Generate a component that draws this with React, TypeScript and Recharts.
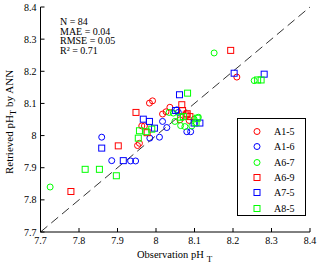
import { ScatterChart, Scatter, XAxis, YAxis, ReferenceLine, Legend } from "recharts"

const ticks = [7.7, 7.8, 7.9, 8, 8.1, 8.2, 8.3, 8.4]
const stats = ["N = 84", "MAE = 0.04", "RMSE = 0.05", "R\u00b2 = 0.71"]

// observation pH_T vs ANN-retrieved pH_T, one pair of arrays per station
const a15Obs = [7.983, 7.991, 8.036, 8.017, 7.963, 7.970, 7.952, 7.957, 8.086, 8.062, 8.210, 8.026]
const a15Ann = [8.101, 8.108, 8.088, 8.067, 8.030, 8.030, 7.969, 7.976, 8.047, 8.049, 8.182, 8.074]

const a16Obs = [7.859, 7.885, 7.934, 7.947, 7.984, 8.009, 8.017, 8.028, 8.054, 8.058, 8.080, 8.090]
const a16Ann = [7.995, 7.922, 7.921, 7.921, 7.992, 7.995, 8.044, 8.025, 8.080, 8.072, 8.012, 8.012]

const a67Obs = [7.725, 8.034, 8.045, 8.049, 8.064, 8.075, 8.093, 8.099, 8.110, 8.151, 8.255]
const a67Ann = [7.840, 8.072, 8.070, 8.044, 8.031, 8.028, 8.030, 8.051, 8.057, 8.257, 8.171]

const a69Obs = [7.779, 7.902, 7.948, 7.977, 8.067, 8.069, 8.078, 8.081, 8.088, 8.194]
const a69Ann = [7.826, 7.968, 8.072, 8.009, 8.096, 8.078, 8.064, 8.068, 8.059, 8.265]

const a75Obs = [7.859, 7.915, 7.967, 7.983, 7.996, 8.061, 8.051, 8.099, 8.114, 8.203, 8.281]
const a75Ann = [7.961, 7.922, 8.051, 8.044, 8.023, 8.127, 8.078, 8.039, 8.039, 8.194, 8.191]

const a85Obs = [7.816, 7.853, 7.897, 7.957, 7.974, 7.989, 7.954, 8.082, 8.064, 8.071, 8.107, 8.104, 8.264, 8.273]
const a85Ann = [7.895, 7.895, 7.875, 8.015, 8.012, 8.020, 7.992, 8.132, 8.057, 8.059, 8.054, 8.040, 8.173, 8.173]

const series = [
  { name: "A1-5", color: "#ff0000", kind: "circle", obs: a15Obs, ann: a15Ann },
  { name: "A1-6", color: "#0000ff", kind: "circle", obs: a16Obs, ann: a16Ann },
  { name: "A6-7", color: "#00ff00", kind: "circle", obs: a67Obs, ann: a67Ann },
  { name: "A6-9", color: "#ff0000", kind: "square", obs: a69Obs, ann: a69Ann },
  { name: "A7-5", color: "#0000ff", kind: "square", obs: a75Obs, ann: a75Ann },
  { name: "A8-5", color: "#00ff00", kind: "square", obs: a85Obs, ann: a85Ann },
]

const FONT = "'Liberation Serif', 'Times New Roman', serif"

function Marker({ cx, cy, kind, color }: { cx: number; cy: number; kind: string; color: string }) {
  if (kind === "circle") return <circle cx={cx} cy={cy} r={3} fill="none" stroke={color} strokeWidth={1} />
  return <rect x={cx - 3} y={cy - 3} width={6} height={6} fill="none" stroke={color} strokeWidth={1} />
}

const fmt = (v: number) => String(Number(v.toFixed(1)))

function LegendBox() {
  return (
    <div
      style={{
        width: 69,
        height: 98,
        boxSizing: "border-box",
        border: "1px solid #000",
        background: "#fff",
        paddingTop: 5,
        fontFamily: FONT,
        fontSize: 10,
        color: "#000",
      }}
    >
      {series.map((s) => (
        <div key={s.name} style={{ height: 15.3, display: "flex", alignItems: "center" }}>
          <svg width={36} height={15} style={{ display: "block" }}>
            <Marker cx={19} cy={7.5} kind={s.kind} color={s.color} />
          </svg>
          <span>{s.name}</span>
        </div>
      ))}
    </div>
  )
}

export default function App() {
  return (
    <div style={{ position: "absolute", left: 0, top: 0, background: "#fff" }}>
      <ScatterChart width={320} height={267} margin={{ top: 7, right: 10, bottom: 0, left: 0 }}>
        <XAxis
          type="number"
          dataKey="x"
          domain={[7.7, 8.4]}
          ticks={ticks}
          tickFormatter={fmt}
          height={35}
          stroke="#000"
          tickSize={-4}
          tickMargin={9}
          tick={{ fontSize: 10, fill: "#000", fontFamily: FONT }}
          allowDataOverflow
        />
        <YAxis
          type="number"
          dataKey="y"
          domain={[7.7, 8.4]}
          ticks={ticks}
          tickFormatter={fmt}
          width={40.5}
          stroke="#000"
          tickSize={-4}
          tickMargin={8}
          tick={{ fontSize: 10, fill: "#000", fontFamily: FONT }}
          allowDataOverflow
        />
        <XAxis xAxisId="top" orientation="top" type="number" domain={[7.7, 8.4]} ticks={ticks} height={0} stroke="#000" tickSize={-4} tick={false} />
        <YAxis yAxisId="right" orientation="right" type="number" domain={[7.7, 8.4]} ticks={ticks} width={0} stroke="#000" tickSize={-4} tick={false} />
        <ReferenceLine
          segment={[{ x: 7.7, y: 7.7 }, { x: 8.4, y: 8.4 }]}
          stroke="#333"
          strokeDasharray="9 5"
          ifOverflow="visible"
        />
        {series.map((s) => (
          <Scatter
            key={s.name}
            name={s.name}
            data={s.obs.map((x, i) => ({ x, y: s.ann[i] }))}
            isAnimationActive={false}
            shape={(p: any) => <Marker cx={p.cx} cy={p.cy} kind={s.kind} color={s.color} />}
          />
        ))}
        <Legend
          layout="horizontal"
          align="center"
          verticalAlign="middle"
          wrapperStyle={{ left: 237, top: 118, width: 69 }}
          content={() => <LegendBox />}
        />
        <g fontFamily={FONT} fontSize={10} fill="#000">
          {stats.map((t, i) => (
            <text key={t} x={60} y={25 + i * 9.6}>
              {t}
            </text>
          ))}
        </g>
        <text x={137} y={258} fontFamily={FONT} fontSize={10.5} fill="#000">
          Observation pH
          <tspan dx={3} dy={4} fontSize={9}>T</tspan>
        </text>
        <text transform="translate(13,122) rotate(-90)" textAnchor="middle" fontFamily={FONT} fontSize={11} fill="#000">
          Retrieved pH
          <tspan dy={3} fontSize={9}>T</tspan>
          <tspan dy={-3}> by ANN</tspan>
        </text>
      </ScatterChart>
    </div>
  )
}
